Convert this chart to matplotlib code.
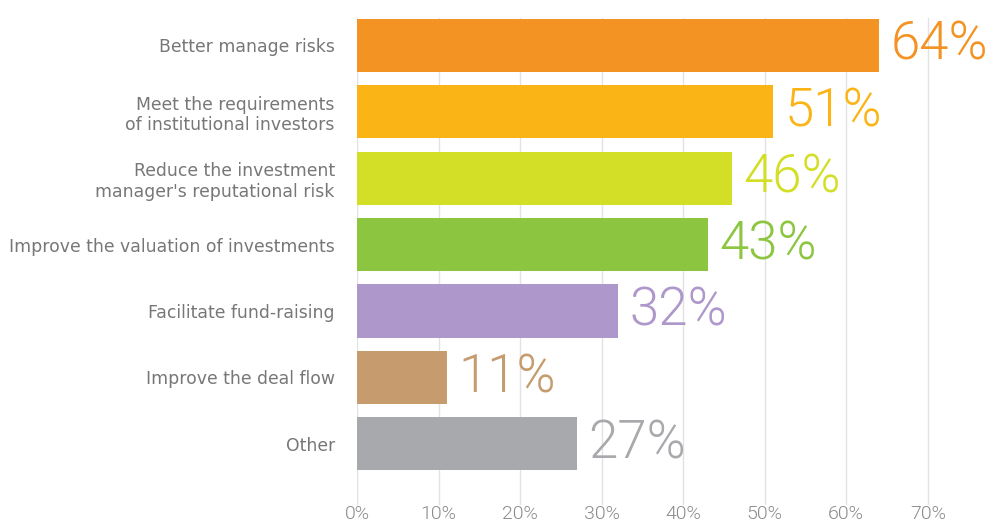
import matplotlib
matplotlib.use("Agg")
import matplotlib.pyplot as plt

# data
categories = ["Better manage risks",
              "Meet the requirements\nof institutional investors",
              "Reduce the investment\nmanager's reputational risk",
              "Improve the valuation of investments",
              "Facilitate fund-raising",
              "Improve the deal flow",
              "Other"]
values = [64, 51, 46, 43, 32, 11, 27]
colors = ["#F39324", "#FBB415", "#D3DE26", "#8CC540", "#AE97CA", "#C69B6D", "#A7A9AC"]
ticks = [0, 10, 20, 30, 40, 50, 60, 70]

fig = plt.figure(figsize=(9.96, 5.23), dpi=100)
ax = fig.add_axes([357/996, 18/523, 636/996, 487/523])

pos = list(range(len(categories)))
ax.barh(pos, values, height=0.8, color=colors, zorder=2)

for i in pos:
    ax.text(values[i] + 1.4, pos[i], "%d%%" % values[i], color=colors[i],
            fontsize=38, fontweight=300, family=["Roboto", "DejaVu Sans"],
            va="center", ha="left", zorder=3)

ax.set_xlim(0, 78)
ax.set_ylim(6.92, -0.41)
ax.set_xticks(ticks)
ax.set_xticklabels(["%d%%" % t for t in ticks], color="#8a8a8a", fontsize=14,
                   fontweight=300, family=["Roboto", "DejaVu Sans"])
ax.set_yticks(pos)
ax.set_yticklabels(categories, color="#777777", fontsize=12.4)
ax.tick_params(axis="y", length=0, pad=16)
ax.tick_params(axis="x", length=0, pad=0)
ax.grid(axis="x", color="#e2e2e2", linewidth=1.0, zorder=1)
for s in ax.spines.values():
    s.set_visible(False)

fig.savefig("out.png", dpi=100)
